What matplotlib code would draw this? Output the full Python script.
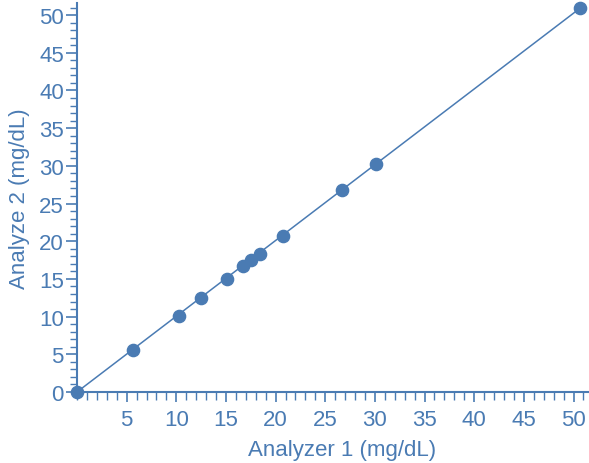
import matplotlib
matplotlib.use("Agg")
import matplotlib.pyplot as plt
from matplotlib.ticker import MultipleLocator, FixedLocator

plt.rcParams["font.family"] = ["Liberation Sans", "DejaVu Sans"]

# Paired measurements (mg/dL)
analyzer1 = [0.0, 5.67, 10.3, 12.5, 15.1, 16.75, 17.5, 18.4, 20.74, 26.7, 30.1, 50.65]
analyzer2 = [0.0, 5.57, 10.12, 12.47, 15.0, 16.67, 17.5, 18.34, 20.73, 26.75, 30.2, 50.9]

x_major = [5, 10, 15, 20, 25, 30, 35, 40, 45, 50]
y_major = [0, 5, 10, 15, 20, 25, 30, 35, 40, 45, 50]

blue = "#4a7bb3"

W, H = 589, 464
fig = plt.figure(figsize=(W / 100, H / 100), dpi=100)
ax = fig.add_axes([77 / W, 71 / H, 512 / W, 389 / H])

# Fit line through the endpoints of the data
ax.plot([analyzer1[0], analyzer1[-1]], [analyzer2[0], analyzer2[-1]],
        color=blue, lw=1.1, zorder=2, clip_on=False)
ax.plot(analyzer1, analyzer2, "o", color=blue, ms=8.8, mec=blue,
        zorder=3, clip_on=False)

ax.set_xlim(0, 51.56)
ax.set_ylim(0, 51.6)

for s in ["top", "right"]:
    ax.spines[s].set_visible(False)
for s in ["left", "bottom"]:
    ax.spines[s].set_color(blue)
    ax.spines[s].set_linewidth(1.5)

ax.xaxis.set_major_locator(FixedLocator(x_major))
ax.xaxis.set_minor_locator(MultipleLocator(1))
ax.yaxis.set_major_locator(FixedLocator(y_major))
ax.yaxis.set_minor_locator(MultipleLocator(1))

ax.tick_params(axis="x", which="major", length=7, width=1.2, color=blue,
               labelcolor=blue, labelsize=16, pad=5)
ax.tick_params(axis="x", which="minor", length=6, width=1.0, color=blue)
ax.tick_params(axis="y", which="major", length=8, width=1.2, color=blue,
               labelcolor=blue, labelsize=16, pad=1.5)
ax.tick_params(axis="y", which="minor", length=5, width=1.0, color=blue)

ax.set_xlabel("Analyzer 1 (mg/dL)", color=blue, fontsize=16)
ax.set_ylabel("Analyze 2 (mg/dL)", color=blue, fontsize=16)
ax.xaxis.set_label_coords(0.518, -0.12)
ax.yaxis.set_label_coords(-0.092, 0.5)

fig.savefig("out.png", dpi=100)
